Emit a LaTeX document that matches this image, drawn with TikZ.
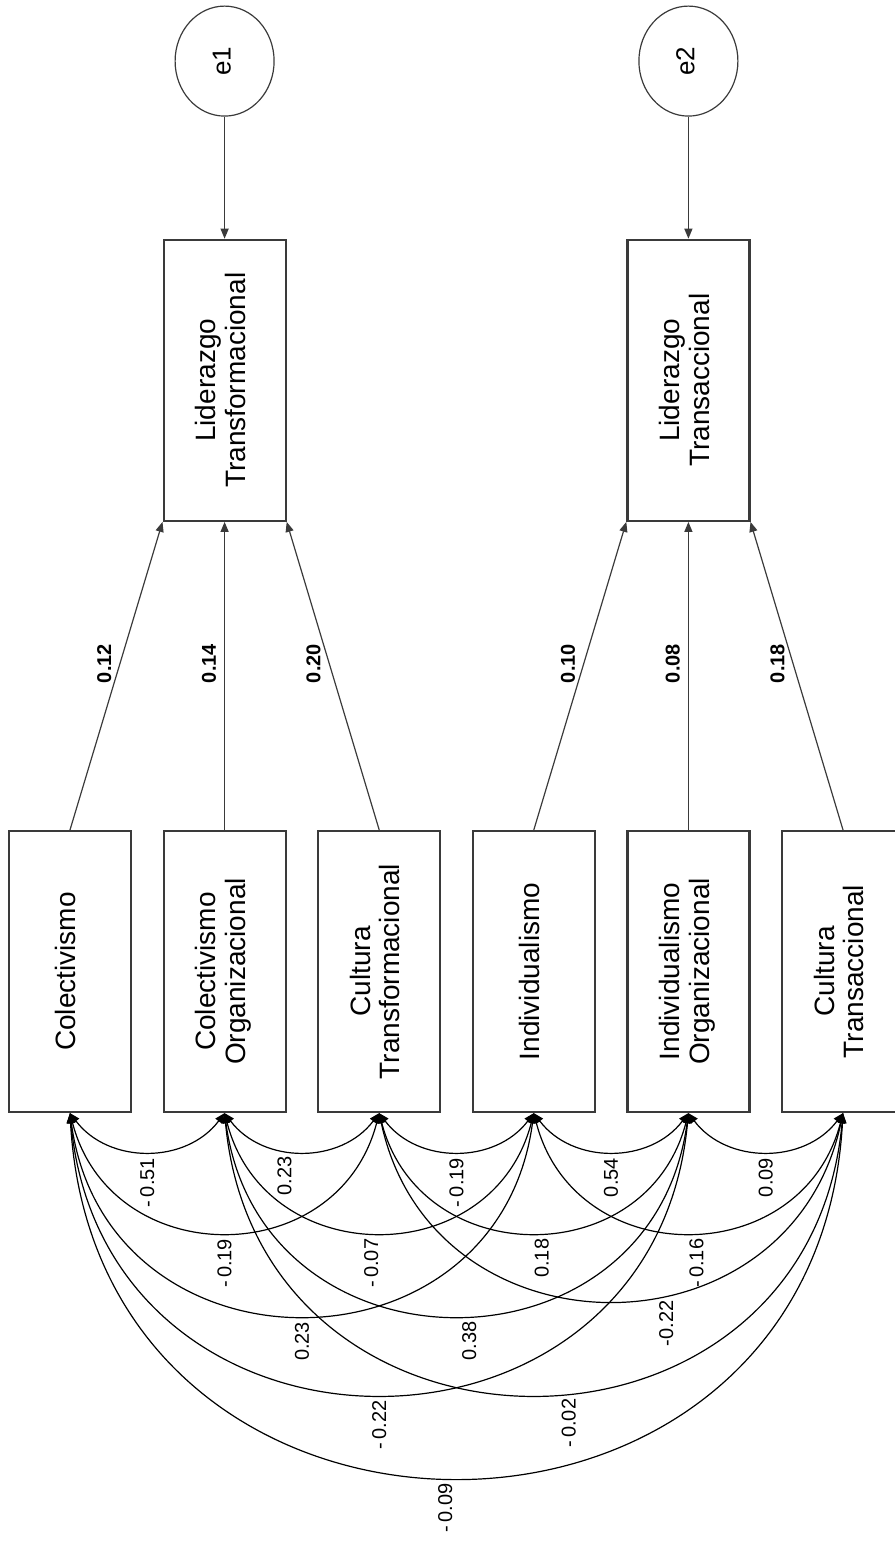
\documentclass[tikz,border=0pt]{standalone}
\usepackage{fontspec}
\setmainfont{Liberation Sans}
\usepackage{graphicx}
\usepackage{tikz}
\usetikzlibrary{arrows.meta,positioning,shapes.geometric}
\definecolor{AMOSgray}{HTML}{3A3A3A}
\tikzset{
  sem/observed/.style={draw=AMOSgray, line width=1.1pt, minimum width=61pt, minimum height=140.5pt, inner sep=0pt, font=\fontsize{14}{14.8}\selectfont},
  sem/error/.style={draw=AMOSgray, ellipse, line width=0.6pt, minimum width=49.5pt, minimum height=55pt, inner sep=0pt, font=\fontsize{13}{15}\selectfont},
  sem/path/.style={-{Triangle[length=5pt,width=4pt]}, line width=0.6pt, draw=AMOSgray},
  sem/cov/.style={{Triangle[length=5pt,width=4pt]}-{Triangle[length=5pt,width=4pt]}, line width=0.6pt},
  sem/pathlab/.style={rotate=90, anchor=south, inner sep=4pt, pos=0.54, font=\fontsize{10}{12}\selectfont\bfseries},
  sem/covlab/.style={rotate=90, anchor=east, inner sep=3pt, font=\fontsize{10}{12}\selectfont},
  sem/d1/.style={out=-53, in=-127, looseness=1.063},
  sem/d2/.style={out=-75.5, in=-104.5, looseness=1.362},
  sem/d3/.style={out=-82.4, in=-97.6, looseness=1.504},
  sem/d3s/.style={out=-78, in=-102, looseness=1.41},
  sem/d4/.style={out=-84.7, in=-95.3, looseness=1.56},
  sem/d5/.style={out=-86.8, in=-93.2, looseness=1.613}
}
\newcommand{\vlab}[1]{\rotatebox{90}{\begin{tabular}{@{}c@{}}#1\end{tabular}}}

\begin{document}
\begin{tikzpicture}[x=0.5pt, y=0.5pt]
\useasboundingbox (0,0) rectangle (894,-1556);
% observed exogenous variables
\node[sem/observed] (col) at (70,-971.5) {\vlab{Colectivismo}};
\node[sem/observed, right=15.2pt of col] (colorg) {\vlab{Colectivismo\\Organizacional}};
\node[sem/observed, right=15.2pt of colorg] (cultf) {\vlab{Cultura\\Transformacional}};
\node[sem/observed, right=15.2pt of cultf] (ind) {\vlab{Individualismo}};
\node[sem/observed, right=15.2pt of ind] (indorg) {\vlab{Individualismo\\Organizacional}};
\node[sem/observed, right=15.2pt of indorg] (cultr) {\vlab{Cultura\\Transaccional}};
% endogenous variables and errors
\node[sem/observed, above=154pt of colorg] (ltf) {\vlab{Liderazgo\\Transformacional}};
\node[sem/observed, above=154pt of indorg] (ltr) {\vlab{Liderazgo\\Transaccional}};
\node[sem/error, above=61pt of ltf] (e1) {\vlab{e1}};
\node[sem/error, above=61pt of ltr] (e2) {\vlab{e2}};
\draw[sem/path] (e1) -- (ltf);
\draw[sem/path] (e2) -- (ltr);
% regression weights
\draw[sem/path] (col.north) -- node[sem/pathlab] {0.12} (ltf.south west);
\draw[sem/path] (colorg) -- node[sem/pathlab] {0.14} (ltf);
\draw[sem/path] (cultf.north) -- node[sem/pathlab] {0.20} (ltf.south east);
\draw[sem/path] (ind.north) -- node[sem/pathlab] {0.10} (ltr.south west);
\draw[sem/path] (indorg) -- node[sem/pathlab] {0.08} (ltr);
\draw[sem/path] (cultr.north) -- node[sem/pathlab] {0.18} (ltr.south east);
% correlations
\draw[sem/cov] (col.south) to[sem/d1] node[sem/covlab] {-\,0.51} (colorg.south);
\draw[sem/cov] (colorg.south) to[sem/d1] node[sem/covlab, pos=0.4] {0.23} (cultf.south);
\draw[sem/cov] (cultf.south) to[sem/d1] node[sem/covlab] {-\,0.19} (ind.south);
\draw[sem/cov] (ind.south) to[sem/d1] node[sem/covlab] {0.54} (indorg.south);
\draw[sem/cov] (indorg.south) to[sem/d1] node[sem/covlab] {0.09} (cultr.south);
\draw[sem/cov] (col.south) to[sem/d2] node[sem/covlab] {-\,0.19} (cultf.south);
\draw[sem/cov] (colorg.south) to[sem/d2] node[sem/covlab, pos=0.48] {-\,0.07} (ind.south);
\draw[sem/cov] (cultf.south) to[sem/d2] node[sem/covlab, pos=0.52] {0.18} (indorg.south);
\draw[sem/cov] (ind.south) to[sem/d2] node[sem/covlab, pos=0.52] {-\,0.16} (cultr.south);
\draw[sem/cov] (col.south) to[sem/d3] node[sem/covlab] {0.23} (ind.south);
\draw[sem/cov] (colorg.south) to[sem/d3] node[sem/covlab, pos=0.52] {0.38} (indorg.south);
\draw[sem/cov] (cultf.south) to[sem/d3s] node[sem/covlab, pos=0.59] {-0.22} (cultr.south);
\draw[sem/cov] (col.south) to[sem/d4] node[sem/covlab] {-\,0.22} (indorg.south);
\draw[sem/cov] (colorg.south) to[sem/d4] node[sem/covlab, pos=0.54] {-\,0.02} (cultr.south);
\draw[sem/cov] (col.south) to[sem/d5] node[sem/covlab, pos=0.49] {-\,0.09} (cultr.south);
\end{tikzpicture}
\end{document}
